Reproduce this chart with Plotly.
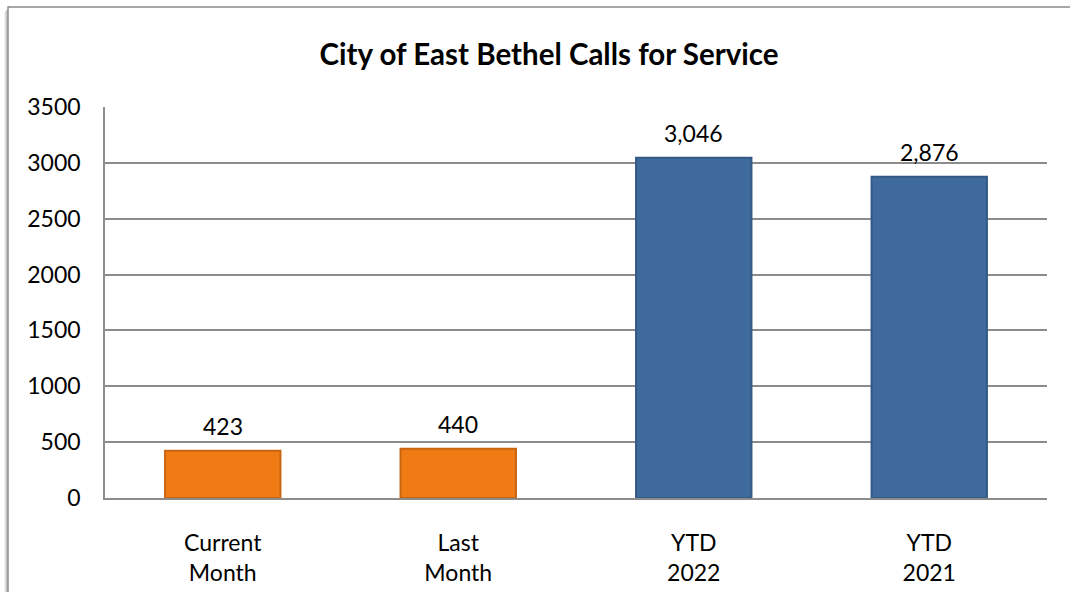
import plotly.graph_objects as go

categories = ["Current<br>Month", "Last<br>Month", "YTD<br>2022", "YTD<br>2021"]
values = [423, 440, 3046, 2876]
value_labels = ["423", "440", "3,046", "2,876"]
bar_colors = ["#F07B14", "#F07B14", "#3E6A9D", "#3E6A9D"]
edge_colors = ["#C96410", "#C96410", "#335A87", "#335A87"]
y_ticks = [0, 500, 1000, 1500, 2000, 2500, 3000, 3500]

FONT = "Lato"
W, H = 1070, 592
ml, mr, mt, mb = 105, 23, 107, 94
pw = W - ml - mr
ph = H - mt - mb

def px_x(X):
    return (X - ml) / pw

def px_y(Y):
    return (H - mb - Y) / ph

fig = go.Figure()
fig.add_trace(go.Bar(
    x=categories, y=values,
    marker=dict(color=bar_colors, line=dict(color=edge_colors, width=2)),
    width=0.49,
    hoverinfo="skip",
))

annotations = []
for c, v, t in zip(categories, values, value_labels):
    annotations.append(dict(x=c, y=v, xref="x", yref="y", text=t, showarrow=False,
                            yshift=25, yanchor="middle",
                            font=dict(family=FONT, size=23, color="#000000")))

shapes = []
for i, c in enumerate(["#ececec", "#d6d6d6", "#bdbdbd"]):
    off = 3 - i
    shapes.append(dict(type="line", xref="paper", yref="paper",
                       x0=px_x(8 - off), x1=px_x(8 - off), y0=px_y(7 + off + 2), y1=px_y(700),
                       line=dict(color=c, width=1.5), layer="below"))
shapes.append(dict(type="rect", xref="paper", yref="paper",
                   x0=px_x(8), x1=px_x(1200), y0=px_y(700), y1=px_y(7),
                   line=dict(color="#8a8a8a", width=1.5), layer="below"))

fig.update_layout(
    width=W, height=H,
    margin=dict(l=ml, r=mr, t=mt, b=mb),
    paper_bgcolor="white", plot_bgcolor="white",
    showlegend=False,
    title=dict(text="<b>City of East Bethel Calls for Service</b>",
               x=549 / W, xanchor="center", xref="container",
               y=1 - 55 / H, yanchor="middle", yref="container",
               font=dict(family=FONT, size=29.5, color="#000000")),
    font=dict(family=FONT, size=23, color="#000000"),
    shapes=shapes,
    annotations=annotations,
    xaxis=dict(showgrid=False, showline=True, linecolor="#8c8c8c", linewidth=1.5,
               tickfont=dict(family=FONT, size=23), ticks="", ticklabelstandoff=24,
               automargin=False),
    yaxis=dict(range=[0, 3500], tickvals=y_ticks, showgrid=True, gridcolor="#8c8c8c",
               gridwidth=1.5, showline=True, linecolor="#8c8c8c", linewidth=1.5,
               zeroline=False, ticks="", ticklabelstandoff=18, automargin=False,
               tickfont=dict(family=FONT, size=23), mirror=False),
)

fig.write_html("out.html")
